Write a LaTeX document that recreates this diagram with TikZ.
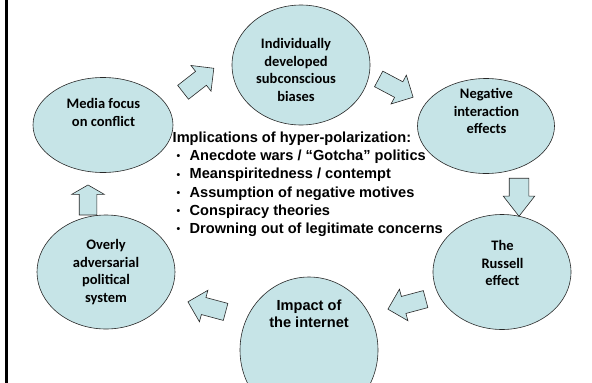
\documentclass[tikz,border=0pt]{standalone}
\usepackage{fontspec}
\setmainfont{Liberation Sans}
\newfontfamily\calibri{Carlito}
\usetikzlibrary{shapes.geometric,shapes.arrows}
\definecolor{bubblefill}{RGB}{198,228,231}
\definecolor{rim}{RGB}{40,40,40}
\newcommand{\listdot}{\makebox[17pt][l]{\hspace{4pt}\raisebox{0.8pt}{\fontsize{10.5}{10.5}\selectfont\textbullet}}}

\begin{document}
\begin{tikzpicture}[x=1pt,y=-1pt,
  bubble/.style={ellipse, draw=rim, line width=0.6pt, fill=bubblefill, inner sep=0pt},
  caption/.style={align=center, inner sep=0pt, font=\calibri\bfseries\fontsize{14.5}{17.5}\selectfont},
  arialcap/.style={align=center, inner sep=0pt, font=\bfseries\fontsize{14.6}{17}\selectfont},
  flow/.style={single arrow, draw=rim, line width=0.6pt, fill=bubblefill,
    inner xsep=0pt, inner ysep=8.5pt, minimum height=39pt,
    single arrow head extend=7.5pt, single arrow tip angle=90},
]
\clip (0,0) rectangle (592,383);
\fill[white] (0,0) rectangle (592,383);

% left frame rule
\draw[line width=3pt] (6.5,0) -- (6.5,383);

% the six stages of the cycle
\node[bubble, minimum width=140pt, minimum height=95pt]  (media)   at (103,125) {};
\node[bubble, minimum width=138pt, minimum height=120pt] (bias)    at (301,65)  {};
\node[bubble, minimum width=137pt, minimum height=95pt]  (neg)     at (486,126) {};
\node[bubble, minimum width=138pt, minimum height=115pt] (russell) at (502,272) {};
\node[bubble, minimum width=138pt, minimum height=146pt] (net)     at (309,350) {};
\node[bubble, minimum width=138pt, minimum height=114pt] (system)  at (106,272) {};

\node[caption] (mediaT)   at (103.5,112.5) {Media focus\\on conflict};
\node[caption] (biasT)    at (296,70)      {Individually\\developed\\subconscious\\biases};
\node[caption] (negT)     at (486.5,111)   {Negative\\interaction\\effects};
\node[caption] (russellT) at (502.5,263)   {The\\Russell\\effect};
\node[arialcap] (netT)    at (309,313.5)   {Impact of\\the internet};
\node[caption] (systemT)  at (106,272)     {Overly\\adversarial\\political\\system};

% block arrows between the stages
\node[flow, rotate=38]  (a1) at (195,83)  {};
\node[flow, rotate=-28] (a2) at (392,86)  {};
\node[flow, rotate=-90, inner ysep=9.5pt, single arrow head extend=6pt,
      single arrow tip angle=76, minimum height=38pt] (a3) at (519,191) {};
\node[flow, rotate=195] (a4) at (411,303) {};
\node[flow, rotate=165] (a5) at (211,308) {};
\node[flow, rotate=90, minimum height=30pt, single arrow head extend=7.5pt,
      single arrow tip angle=120] (a6) at (88,202.5) {};

% list of consequences in the middle
\node[anchor=north west, inner sep=0pt, align=left,
      font=\bfseries\fontsize{14.6}{18.2}\selectfont] (implications) at (172.5,129.5) {%
  \begin{tabular}{@{}l@{}l@{}}
  \multicolumn{2}{@{}l@{}}{Implications of hyper-polarization:}\\
  \listdot & Anecdote wars / “Gotcha” politics\\
  \listdot & Meanspiritedness / contempt\\
  \listdot & Assumption of negative motives\\
  \listdot & Conspiracy theories\\
  \listdot & Drowning out of legitimate concerns
  \end{tabular}};
\end{tikzpicture}
\end{document}
